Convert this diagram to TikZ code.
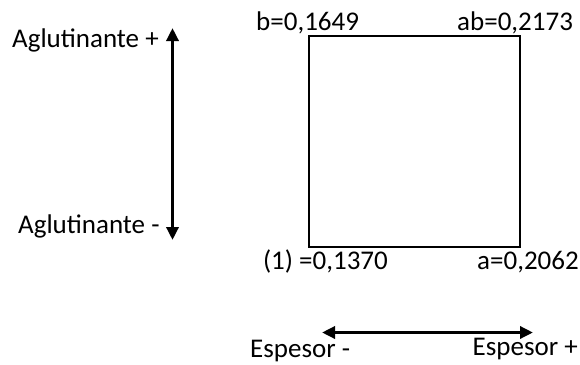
\documentclass[tikz,border=0pt]{standalone}
\usepackage{fontspec}
\setmainfont{Carlito}
\usetikzlibrary{arrows.meta,positioning}

\begin{document}
\begin{tikzpicture}[
    x=1pt, y=-1pt,
    font=\fontsize{27}{32}\selectfont,
    >={Triangle[width=12pt,length=13pt]},
    factor/.style={
        draw,
        line width=2pt,
        minimum width=211pt,
        minimum height=211pt,
        inner sep=0pt
    },
    axis/.style={
        <->,
        line width=3.6pt
    },
    lbl/.style={
        inner sep=0pt
    }
]

\useasboundingbox (0,0) rectangle (580,364);

\node[factor] (sq) at (414.5,141.5) {};

% response values at the corners
\node[lbl, anchor=base west] (vb) at (256,30) {b=0,1649};
\node[lbl, anchor=base west] (vab) at (457,30) {ab=0,2173};
\node[lbl, anchor=base east] (v1) at (388,269) {(1) =0,1370};
\node[lbl, anchor=base west] (va) at (477,269) {a=0,2062};

% binder axis
\coordinate (agtop) at (172.5,28);
\coordinate (agbot) at (172.5,240);
\draw[axis] (agtop) -- (agbot);
\node[lbl, anchor=base west] (agplus) at (12,47) {Aglutinante +};
\node[lbl, anchor=base west] (agminus) at (18,233) {Aglutinante -};

% thickness axis
\coordinate (esleft) at (322,332.5);
\coordinate (esright) at (533,332.5);
\draw[axis] (esleft) -- (esright);
\node[lbl, anchor=base west] (esminus) at (250,357.5) {Espesor -};
\node[lbl, anchor=base east] (esplus) at (578,355) {Espesor +};

\end{tikzpicture}
\end{document}
